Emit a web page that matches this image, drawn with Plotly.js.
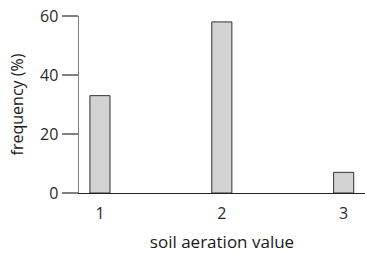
<!DOCTYPE html>
<html><head><meta charset="utf-8">
<script src="https://cdn.plot.ly/plotly-3.0.1.min.js"></script>
<style>body{margin:0;padding:0;background:#fff}#chart{width:365px;height:253px}</style>
</head><body><div id="chart"></div>
<script>
var categories = [1, 2, 3];
var frequency = [33, 58, 7];
var yTicks = [0, 20, 40, 60];

var trace = {
  type: 'bar',
  x: categories,
  y: frequency,
  width: 0.165,
  marker: {color: '#d3d3d3', line: {color: '#333333', width: 1}},
  hoverinfo: 'none'
};

var layout = {
  width: 365, height: 253,
  margin: {l: 79, r: 0, t: 16, b: 60},
  paper_bgcolor: '#ffffff', plot_bgcolor: '#ffffff',
  font: {family: 'Open Sans, sans-serif', size: 16, color: '#2a2a2a'},
  showlegend: false,
  bargap: 0,
  xaxis: {
    range: [0.828, 3.175],
    tickvals: categories, ticktext: categories.map(String),
    showline: true, linecolor: '#222222', linewidth: 1,
    showgrid: false, zeroline: false,
    ticks: 'outside', ticklen: 6, tickcolor: 'rgba(0,0,0,0)',
    tickfont: {size: 16, color: '#2a2a2a'},
    title: {text: 'soil aeration value', font: {size: 17, color: '#1a1a1a'}, standoff: 13}
  },
  yaxis: {
    range: [0, 60],
    tickvals: yTicks,
    showline: true, linecolor: '#808080', linewidth: 1.5,
    showgrid: false, zeroline: false,
    ticks: 'outside', ticklen: 16, tickcolor: '#808080', tickwidth: 1.5,
    tickfont: {size: 16, color: '#2a2a2a'},
    title: {text: 'frequency (%)', font: {size: 16, color: '#1a1a1a'}, standoff: 12}
  }
};

Plotly.newPlot('chart', [trace], layout, {staticPlot: true, displayModeBar: false});
</script></body></html>
